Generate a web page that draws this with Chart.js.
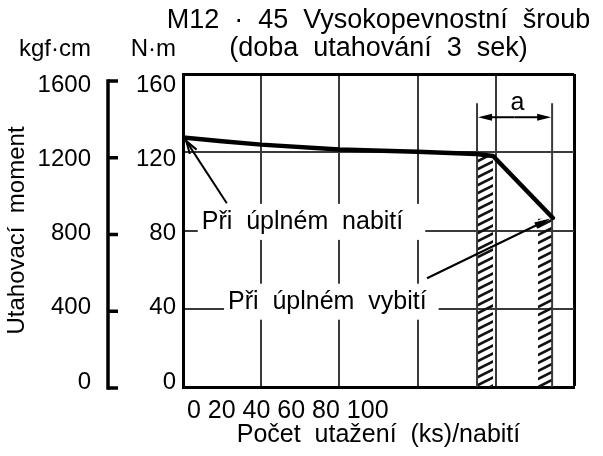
<!DOCTYPE html>
<html><head><meta charset="utf-8">
<script src="https://cdn.jsdelivr.net/npm/chart.js@4"></script>
<style>html,body{margin:0;padding:0;background:#fff}</style>
</head><body>
<canvas id="c" width="603" height="456" style="width:603px;height:456px;display:block"></canvas>
<script>
// ---- texts ----
const titleLines = ['M12  ·  45  Vysokopevnostní  šroub', '(doba  utahování  3  sek)'];
const unitKgf = 'kgf·cm';
const unitNm = 'N·m';
const yTitle = 'Utahovací  moment';
const xTitle = 'Počet  utažení  (ks)/nabití';
const labelFull = 'Při  úplném  nabití';
const labelEmpty = 'Při  úplném  vybití';
const dimLabel = 'a';
// ---- ticks ----
const xTickLabels = ['0', '20', '40', '60', '80', '100'];
const nmTicks = [0, 40, 80, 120, 160];
const kgfTicks = [0, 400, 800, 1200, 1600];
// ---- data (x in grid units 0..100, y in N·m) ----
const strokes = [0, 10, 20, 40, 60, 75, 79.3, 94.6];
const torqueNm = [127.5, 125.6, 123.9, 121.4, 120.2, 119.1, 118.1, 86.4];
const band1X = [75.4, 79.3], band1Top = 118;
const band2X = [90.8, 94.6], band2Top = 86;
const dimLinesX = [75.2, 94.4], dimTop = 145;
const dimArrowY = 137.9;
const arrowFull = { from: [11.2, 93.9], to: [0.8, 125.8] };
const arrowEmpty = { from: [62.4, 55.6], to: [93.9, 86.1] };
const labelFullPos = [4.8, 84.4];
const labelEmptyPos = [11.5, 43.6];
// printed tick-label columns sit on a slightly compressed scale in the original
const nmLabelRange = [-2.7, 165.9];
const kgfLabelRange = [-27, 1659];
const bracketRange = [5.2, 1636.5];

const FONT = "'Liberation Sans', Arial, sans-serif";

function hatchPattern() {
  const c = document.createElement('canvas');
  c.width = 16; c.height = 8;
  const g = c.getContext('2d');
  g.strokeStyle = '#111'; g.lineWidth = 2.6;
  g.beginPath();
  g.moveTo(-4, 10); g.lineTo(20, -2);
  g.moveTo(-20, 10); g.lineTo(4, -2);
  g.moveTo(12, 10); g.lineTo(36, -2);
  g.stroke();
  return g.createPattern(c, 'repeat');
}
const pattern = hatchPattern();

function arrow(ctx, x1, y1, x2, y2, opts) {
  const ang = Math.atan2(y2 - y1, x2 - x1);
  const L = opts.len, W = opts.wid;
  const back = opts.filled ? L * 0.6 : 0;
  ctx.beginPath(); ctx.moveTo(x1, y1);
  ctx.lineTo(x2 - back * Math.cos(ang), y2 - back * Math.sin(ang));
  ctx.stroke();
  const bx = x2 - L * Math.cos(ang), by = y2 - L * Math.sin(ang);
  const nx = -Math.sin(ang) * W, ny = Math.cos(ang) * W;
  ctx.beginPath();
  ctx.moveTo(bx + nx, by + ny); ctx.lineTo(x2, y2); ctx.lineTo(bx - nx, by - ny);
  if (opts.filled) { ctx.closePath(); ctx.fill(); } else { ctx.stroke(); }
}

const overlay = {
  id: 'overlay',
  afterDatasetsDraw(chart) {
    const ctx = chart.ctx, xs = chart.scales.x, ys = chart.scales.y, ca = chart.chartArea;
    const px = v => xs.getPixelForValue(v), py = v => ys.getPixelForValue(v);
    ctx.save();
    ctx.fillStyle = '#000'; ctx.strokeStyle = '#000';
    // bracket of the kgf·cm axis
    const yb = chart.scales.yb, bxl = chart.scales.yk.right;
    const bTop = yb.getPixelForValue(kgfTicks[kgfTicks.length - 1]), bBot = yb.getPixelForValue(kgfTicks[0]);
    ctx.lineWidth = 3.5; ctx.lineCap = 'butt';
    ctx.beginPath(); ctx.moveTo(bxl, bTop - 1.75); ctx.lineTo(bxl, bBot + 1.75); ctx.stroke();
    kgfTicks.forEach(v => {
      const y = yb.getPixelForValue(v);
      ctx.beginPath(); ctx.moveTo(bxl, y); ctx.lineTo(bxl + 10, y); ctx.stroke();
    });
    // label boxes
    ctx.font = '25px ' + FONT;
    [[labelFull, labelFullPos, 18], [labelEmpty, labelEmptyPos, 8]].forEach(([t, p, extra]) => {
      const w = ctx.measureText(t).width;
      const x = px(p[0]), y = py(p[1]);
      ctx.fillStyle = '#fff';
      ctx.fillRect(x - 4, y - 18, w + 8 + extra, 36);
      ctx.fillStyle = '#000';
      ctx.textBaseline = 'middle'; ctx.textAlign = 'left';
      ctx.fillText(t, x, y);
    });
    // arrows
    ctx.lineWidth = 2;
    arrow(ctx, px(arrowFull.from[0]), py(arrowFull.from[1]), px(arrowFull.to[0]), py(arrowFull.to[1]), { len: 13, wid: 4, filled: false });
    arrow(ctx, px(arrowEmpty.from[0]), py(arrowEmpty.from[1]), px(arrowEmpty.to[0]), py(arrowEmpty.to[1]), { len: 16, wid: 3.5, filled: true });
    // dimension arrow a
    const ax1 = px(dimLinesX[0]) + 1, ax2 = px(dimLinesX[1]) - 1, ay = py(dimArrowY);
    const mid = (ax1 + ax2) / 2;
    arrow(ctx, mid, ay, ax1, ay, { len: 14, wid: 3.5, filled: true });
    arrow(ctx, mid, ay, ax2, ay, { len: 14, wid: 3.5, filled: true });
    ctx.textAlign = 'center'; ctx.textBaseline = 'alphabetic';
    ctx.fillText(dimLabel, mid + 3, ay - 7);
    // titles
    ctx.font = '27px ' + FONT;
    const cx = (ca.left + ca.right) / 2;
    ctx.fillText(titleLines[0], cx, 28);
    ctx.fillText(titleLines[1], cx, 56);
    // unit labels (right aligned with tick labels)
    ctx.font = '24px ' + FONT;
    ctx.textAlign = 'right';
    ctx.fillText(unitKgf, chart.scales.yk.right - 17, 56);
    ctx.fillText(unitNm, chart.scales.yl.right - 7, 56);
    ctx.restore();
  }
};

const gridGray = '#3a3a3a';
const dsBase = { pointRadius: 0, yAxisID: 'y', xAxisID: 'x' };

new Chart(document.getElementById('c'), {
  type: 'line',
  data: {
    datasets: [
      { ...dsBase, data: strokes.map((x, i) => ({ x, y: torqueNm[i] })), borderColor: '#000', borderWidth: 4.5, tension: 0, fill: false, order: 0, borderJoinStyle: 'round', borderCapStyle: 'round' },
      { ...dsBase, data: band1X.map(x => ({ x, y: band1Top })), borderWidth: 0, fill: 'origin', backgroundColor: pattern, order: 2 },
      { ...dsBase, data: band2X.map(x => ({ x, y: band2Top })), borderWidth: 0, fill: 'origin', backgroundColor: pattern, order: 2 },
      { ...dsBase, data: [{ x: dimLinesX[0], y: 0 }, { x: dimLinesX[0], y: dimTop }], borderColor: gridGray, borderWidth: 2, fill: false, order: 1 },
      { ...dsBase, data: [{ x: dimLinesX[1], y: 0 }, { x: dimLinesX[1], y: dimTop }], borderColor: gridGray, borderWidth: 2, fill: false, order: 1 }
    ]
  },
  options: {
    responsive: false,
    animation: false,
    devicePixelRatio: 1,
    layout: { padding: { top: 74, right: 29, left: 0, bottom: 0 } },
    plugins: { legend: { display: false }, tooltip: { enabled: false } },
    scales: {
      x: {
        type: 'linear', min: 0, max: 100,
        afterBuildTicks: s => { s.ticks = [0, 20, 40, 60, 80, 100].map(v => ({ value: v })); },
        afterFit: s => { s.height = 69; s.paddingLeft = 0; s.paddingRight = 0; },
        border: { display: true, color: '#000', width: 3 },
        grid: { drawTicks: false, color: c => c.tick && c.tick.value === 100 ? '#000' : gridGray, lineWidth: c => c.tick && c.tick.value === 100 ? 3 : 2 },
        ticks: {
          autoSkip: false, maxRotation: 0, minRotation: 0, align: 'start', padding: 9, labelOffset: 4,
          color: '#000', font: { family: FONT, size: 25 },
          callback: (v) => v === 0 ? xTickLabels.join(' ') : ''
        },
        title: { display: true, text: xTitle, color: '#000', font: { family: FONT, size: 25 }, padding: { top: 0, bottom: 6 } }
      },
      yk: {
        type: 'linear', position: 'left', weight: 4, min: kgfLabelRange[0], max: kgfLabelRange[1],
        afterBuildTicks: s => { s.ticks = kgfTicks.map(v => ({ value: v })); },
        afterFit: s => { s.width = 108; },
        border: { display: false },
        grid: { drawOnChartArea: false, drawTicks: false },
        ticks: { padding: 17, color: '#000', font: { family: FONT, size: 24 }, callback: v => String(v) },
        title: { display: true, text: yTitle, color: '#000', font: { family: FONT, size: 24 }, padding: { top: 3, bottom: 0 } }
      },
      yb: {
        type: 'linear', position: 'left', weight: 3, min: bracketRange[0], max: bracketRange[1],
        afterBuildTicks: s => { s.ticks = kgfTicks.map(v => ({ value: v })); },
        afterFit: s => { s.width = 0; },
        border: { display: false },
        grid: { display: false },
        ticks: { display: false }
      },
      yl: {
        type: 'linear', position: 'left', weight: 2, min: nmLabelRange[0], max: nmLabelRange[1],
        afterBuildTicks: s => { s.ticks = nmTicks.map(v => ({ value: v })); },
        afterFit: s => { s.width = 75; },
        border: { display: false },
        grid: { drawOnChartArea: false, drawTicks: false },
        ticks: { padding: 7, color: '#000', font: { family: FONT, size: 24 }, callback: v => String(v) }
      },
      y: {
        type: 'linear', position: 'left', weight: 1, min: 0, max: 160,
        afterBuildTicks: s => { s.ticks = nmTicks.map(v => ({ value: v })); },
        afterFit: s => { s.width = 0; },
        border: { display: true, color: '#000', width: 3 },
        grid: { drawTicks: false, color: c => c.tick && c.tick.value === 160 ? '#000' : gridGray, lineWidth: c => c.tick && c.tick.value === 160 ? 3 : 2 },
        ticks: { display: false }
      }
    }
  },
  plugins: [overlay]
});
</script>
</body></html>
